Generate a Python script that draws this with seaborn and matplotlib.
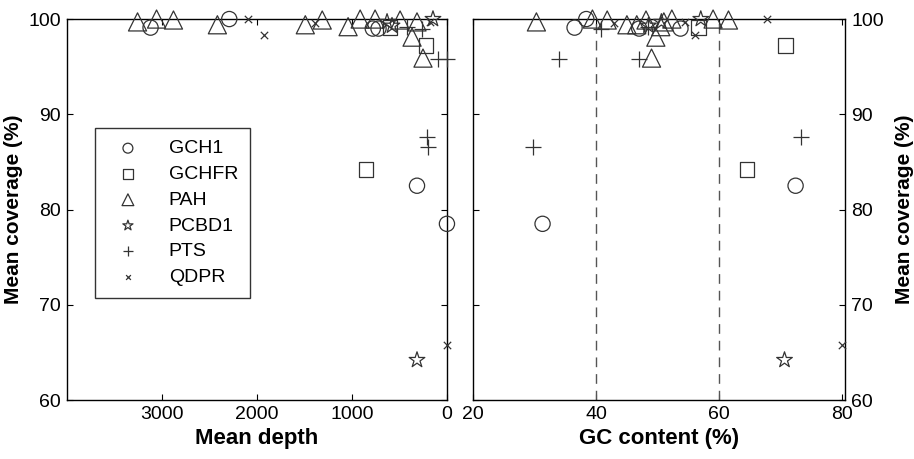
"""Mean coverage per exon against mean depth and GC content, one marker per gene."""
import numpy as np
import pandas as pd
import matplotlib
matplotlib.use("Agg")
import matplotlib.pyplot as plt
import seaborn as sns

genes = ["GCH1", "GCHFR", "PAH", "PCBD1", "PTS", "QDPR"]

gch1_depth = [3118, 2290, 780, 720, 315, 0]
gch1_gc = [36.5, 38.4, 47.0, 53.7, 72.4, 31.3]
gch1_cov = [99.1, 100.0, 99.0, 99.0, 82.5, 78.5]

gchfr_depth = [850, 220, 600]
gchfr_gc = [64.5, 70.8, 56.6]
gchfr_cov = [84.2, 97.2, 99.1]

pah_depth = [3255, 3055, 2877, 2415, 1490, 1312, 1040, 913, 756, 493, 315, 367, 252]
pah_gc = [30.3, 39.4, 41.8, 45.0, 46.6, 48.1, 50.5, 52.3, 59.0, 61.5, 51.0, 49.7, 49.0]
pah_cov = [99.7, 100.0, 99.9, 99.4, 99.4, 99.9, 99.2, 100.0, 100.0, 99.9, 99.7, 98.1, 95.9]

pcbd1_depth = [315, 147, 630, 578]
pcbd1_gc = [70.6, 57.0, 50.6, 48.5]
pcbd1_cov = [64.2, 100.0, 99.7, 99.3]

pts_depth = [210, 200, 95, 0, 420, 262]
pts_gc = [73.2, 29.8, 34.0, 47.0, 48.5, 40.8]
pts_cov = [87.6, 86.6, 95.8, 95.8, 99.2, 99.0]

qdpr_depth = [2090, 1920, 1386, 178, 0]
qdpr_gc = [67.8, 56.1, 42.9, 54.5, 80.0]
qdpr_cov = [100.0, 98.3, 99.6, 99.7, 65.8]

gc_lines = [40, 60]

frames = []
for name, d, g, c in [
    ("GCH1", gch1_depth, gch1_gc, gch1_cov),
    ("GCHFR", gchfr_depth, gchfr_gc, gchfr_cov),
    ("PAH", pah_depth, pah_gc, pah_cov),
    ("PCBD1", pcbd1_depth, pcbd1_gc, pcbd1_cov),
    ("PTS", pts_depth, pts_gc, pts_cov),
    ("QDPR", qdpr_depth, qdpr_gc, qdpr_cov),
]:
    frames.append(pd.DataFrame({"gene": name, "depth": d, "gc": g, "coverage": c}))
df = pd.concat(frames, ignore_index=True)

# marker, size, open or line-art
marker_style = {
    "GCH1": ("o", 120, True),
    "GCHFR": ("s", 110, True),
    "PAH": ("^", 170, True),
    "PCBD1": ("*", 140, True),
    "PTS": ("+", 130, False),
    "QDPR": ("x", 28, False),
}

sns.set_style("white")
plt.rcParams["font.family"] = ["Liberation Sans", "DejaVu Sans"]
plt.rcParams["text.color"] = "black"
plt.rcParams["axes.labelcolor"] = "black"
plt.rcParams["xtick.color"] = "black"
plt.rcParams["ytick.color"] = "black"
ink = "#333333"

fig = plt.figure(figsize=(9.14, 4.59), dpi=100)
ax1 = fig.add_axes([0.073, 0.1285, 0.416, 0.830])
ax2 = fig.add_axes([0.5175, 0.1285, 0.4075, 0.830])


def draw(ax, xcol, with_label):
    for gene in genes:
        sub = df[df["gene"] == gene]
        mk, size, open_mk = marker_style[gene]
        kws = dict(x=sub[xcol], y=sub["coverage"], marker=mk, s=size, ax=ax,
                   clip_on=False, zorder=3, linewidth=0.9,
                   label=gene if with_label else None)
        if open_mk:
            sns.scatterplot(facecolor="none", edgecolor=ink, **kws)
        else:
            sns.scatterplot(color=ink, **kws)


draw(ax1, "depth", True)
draw(ax2, "gc", False)

for x in gc_lines:
    ax2.axvline(x, color="#555555", linestyle=(0, (7, 5)), linewidth=1, zorder=1)

ax1.set_xlim(4000, 0)
ax1.set_xticks([3000, 2000, 1000, 0])
ax2.set_xlim(20, 80.5)
ax2.set_xticks([20, 40, 60, 80])

for ax in (ax1, ax2):
    ax.set_ylim(60, 100)
    ax.set_yticks([60, 70, 80, 90, 100])
    for sp in ax.spines.values():
        sp.set_visible(True)
        sp.set_color("black")
        sp.set_linewidth(1.0)
    ax.tick_params(direction="in", length=4, width=0.8, top=True, right=True,
                   left=True, bottom=True, labelsize=14, pad=4)
    ax.set_ylabel("Mean coverage (%)", fontsize=15, fontweight="bold")

ax2.yaxis.tick_right()
ax2.tick_params(left=True, right=True, labelleft=False, labelright=True)
ax2.yaxis.set_label_position("right")
ax2.set_ylabel("Mean coverage (%)", fontsize=15, fontweight="bold",
               rotation=90, labelpad=8)

ax1.set_xlabel("Mean depth", fontsize=16, fontweight="bold")
ax2.set_xlabel("GC content (%)", fontsize=16, fontweight="bold")

leg = ax1.legend(loc="upper left", bbox_to_anchor=(0.074, 0.714), fontsize=14,
                 markerscale=0.65, frameon=True, fancybox=False, borderaxespad=0,
                 handletextpad=1.0, labelspacing=0.42, borderpad=0.6,
                 handlelength=2.2)
leg.get_frame().set_edgecolor("black")
leg.get_frame().set_linewidth(1.0)

plt.savefig("out.png", dpi=100)
